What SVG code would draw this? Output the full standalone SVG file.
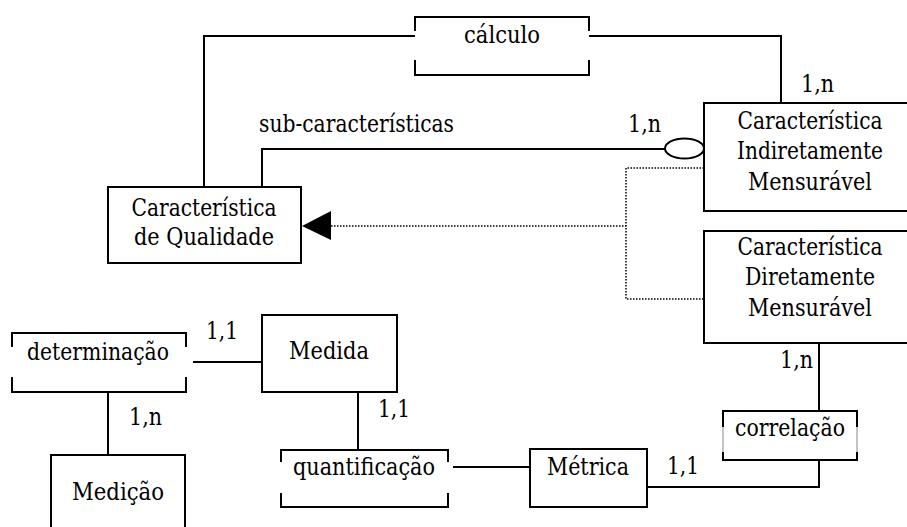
<svg xmlns="http://www.w3.org/2000/svg" width="907" height="527" viewBox="0 0 907 527">
<style>
text{font-family:'DejaVu Serif',serif;font-size:24px;fill:#000}
.c{text-anchor:middle}
.b{fill:#fff;stroke:#000;stroke-width:2}
.l{fill:none;stroke:#000;stroke-width:2}
.d{fill:none;stroke:#000;stroke-width:1.5;stroke-dasharray:1.5 1.5}
.g{fill:none;stroke:#888;stroke-width:1}
</style>
<rect width="907" height="527" fill="#fff"/>
<g id="connectors">
<polyline class="l" points="204,187 204,36 415,36"/>
<polyline class="l" points="589,36 781,36 781,103"/>
<polyline class="l" points="262,187 262,149 665,149"/>
<line class="d" x1="331" y1="226" x2="626" y2="226"/>
<polyline class="d" points="704,168 626,168 626,299 704,299"/>
<polygon points="302,226 331,211 331,240" fill="#000"/>
<line class="l" x1="193" y1="362" x2="262" y2="362"/>
<line class="l" x1="108" y1="392" x2="108" y2="455"/>
<line class="l" x1="358" y1="392" x2="358" y2="450"/>
<line class="l" x1="453" y1="467" x2="530" y2="467"/>
<polyline class="l" points="647,487 819,487 819,460"/>
<line class="l" x1="819" y1="343" x2="819" y2="411"/>
<ellipse cx="684.5" cy="148.5" rx="19.5" ry="10" class="l"/>
</g>
<g id="labels">
<text x="259" y="132" textLength="195" lengthAdjust="spacingAndGlyphs">sub-características</text>
<text x="628" y="132" textLength="33" lengthAdjust="spacingAndGlyphs">1,n</text>
<text x="801" y="92" textLength="33" lengthAdjust="spacingAndGlyphs">1,n</text>
<text x="780" y="368" textLength="33" lengthAdjust="spacingAndGlyphs">1,n</text>
<text x="206" y="339" textLength="32" lengthAdjust="spacingAndGlyphs">1,1</text>
<text x="129" y="425" textLength="33" lengthAdjust="spacingAndGlyphs">1,n</text>
<text x="378" y="417" textLength="32" lengthAdjust="spacingAndGlyphs">1,1</text>
<text x="667" y="474" textLength="32" lengthAdjust="spacingAndGlyphs">1,1</text>
</g>
<g id="calculo">
<path class="l" d="M415,31 V17 H589 V31 M415,60 V75 H589 V60"/>
<text class="c" x="502" y="43" textLength="76" lengthAdjust="spacingAndGlyphs">cálculo</text>
</g>
<g id="caracteristica-qualidade">
<rect class="b" x="108" y="187" width="193" height="76"/>
<text class="c" x="204" y="216" textLength="145" lengthAdjust="spacingAndGlyphs">Característica</text>
<text class="c" x="204" y="245" textLength="140" lengthAdjust="spacingAndGlyphs">de Qualidade</text>
</g>
<g id="caracteristica-indireta">
<path class="b" d="M907,103 H704 V211 H907"/>
<text class="c" x="810" y="129" textLength="145" lengthAdjust="spacingAndGlyphs">Característica</text>
<text class="c" x="810" y="159" textLength="146" lengthAdjust="spacingAndGlyphs">Indiretamente</text>
<text class="c" x="810" y="190" textLength="124" lengthAdjust="spacingAndGlyphs">Mensurável</text>
</g>
<g id="caracteristica-direta">
<path class="b" d="M907,231 H704 V343 H907"/>
<text class="c" x="810" y="255" textLength="145" lengthAdjust="spacingAndGlyphs">Característica</text>
<text class="c" x="810" y="285" textLength="130" lengthAdjust="spacingAndGlyphs">Diretamente</text>
<text class="c" x="810" y="316" textLength="124" lengthAdjust="spacingAndGlyphs">Mensurável</text>
</g>
<g id="determinacao">
<path class="l" d="M12,347 V333 H186 V347 M12,377 V392 H186 V377"/>
<text class="c" x="98" y="360" textLength="142" lengthAdjust="spacingAndGlyphs">determinação</text>
</g>
<g id="medida">
<rect class="b" x="262" y="315" width="135" height="77"/>
<text class="c" x="329" y="359" textLength="80" lengthAdjust="spacingAndGlyphs">Medida</text>
</g>
<g id="medicao">
<path class="b" d="M51,527 V455 H185 V527"/>
<text class="c" x="118" y="500" textLength="92" lengthAdjust="spacingAndGlyphs">Medição</text>
</g>
<g id="quantificacao">
<path class="l" d="M281,462 V450 H448 V462 M281,493 V507 H448 V493"/>
<text class="c" x="364" y="475" textLength="142" lengthAdjust="spacingAndGlyphs">quantificação</text>
</g>
<g id="metrica">
<rect class="b" x="530" y="449" width="117" height="58"/>
<text class="c" x="588" y="475" textLength="82" lengthAdjust="spacingAndGlyphs">Métrica</text>
</g>
<g id="correlacao">
<path class="l" d="M723,427 V411 H857 V427 M723,452 V460 H857 V452"/>
<path class="g" d="M723,427 V452 M857,427 V452"/>
<text class="c" x="790" y="436" textLength="110" lengthAdjust="spacingAndGlyphs">correlação</text>
</g>
</svg>
